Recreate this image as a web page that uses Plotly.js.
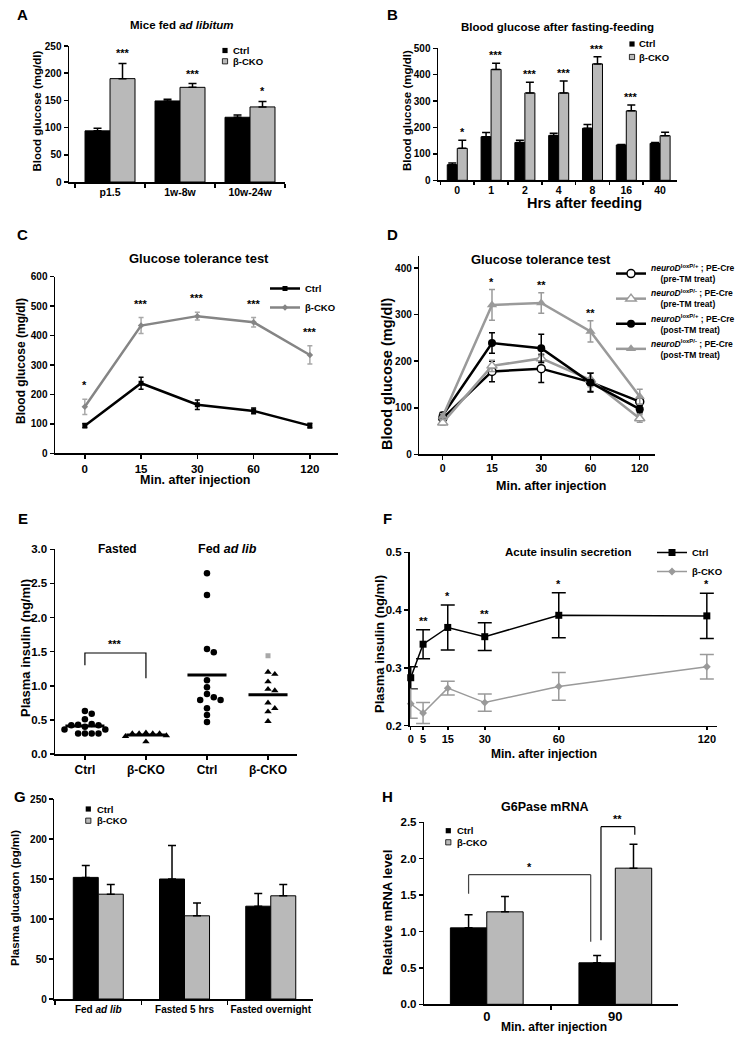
<!DOCTYPE html>
<html><head><meta charset="utf-8">
<script src="https://cdn.plot.ly/plotly-3.0.1.min.js"></script>
<style>html,body{margin:0;padding:0;background:#fff}#chart{width:736px;height:1040px}</style>
</head><body><div id="chart"></div>
<script>
// ================= DATA =================
// A: Mice fed ad libitum
const catsA = ['p1.5', '1w-8w', '10w-24w'];
const ctrlA = [94, 149, 119];
const ctrlAErr = [5, 3, 4];
const ckoA = [190, 174, 138];
const ckoAErr = [28, 7, 10];
const starsA = ['***', '***', '*'];

// B: Blood glucose after fasting-feeding
const catsB = ['0', '1', '2', '4', '8', '16', '40'];
const ctrlB = [59, 165, 143, 170, 197, 134, 140];
const ctrlBErr = [7, 16, 9, 8, 14, 2, 3];
const ckoB = [121, 420, 331, 331, 441, 263, 169];
const ckoBErr = [31, 23, 40, 45, 27, 22, 13];
const starsB = ['*', '***', '***', '***', '***', '***', ''];

// C: Glucose tolerance test
const catsC = ['0', '15', '30', '60', '120'];
const ctrlC = [94, 238, 165, 144, 94];
const ctrlCErr = [7, 20, 16, 10, 8];
const ckoC = [158, 434, 466, 445, 334];
const ckoCErr = [26, 27, 13, 16, 31];
const starsC = ['*', '***', '***', '***', '***'];

// D: Glucose tolerance test (TM)
const catsD = ['0', '15', '30', '60', '120'];
const preHetD = [77, 178, 184, 155, 113];
const preHetDErr = [6, 22, 30, 20, 7];
const preKoD = [68, 190, 206, 160, 77];
const preKoDErr = [5, 12, 10, 15, 8];
const postHetD = [84, 239, 228, 154, 97];
const postHetDErr = [6, 22, 30, 20, 8];
const postKoD = [81, 321, 325, 264, 124];
const postKoDErr = [6, 33, 22, 23, 16];
const starsD = ['', '*', '**', '**', ''];

// E: Plasma insulin
const ticksE = ['Ctrl', 'β-CKO', 'Ctrl', 'β-CKO'];
const fastedCtrlE = [0.63, 0.59, 0.51, 0.44, 0.43, 0.42, 0.42, 0.40, 0.36, 0.36, 0.30, 0.30, 0.30, 0.30];
const fastedCkoE = [0.31, 0.30, 0.30, 0.30, 0.30, 0.27, 0.26, 0.18];
const fedCtrlE = [2.65, 2.33, 1.54, 1.49, 1.08, 0.98, 0.88, 0.83, 0.79, 0.79, 0.67, 0.57, 0.47];
const fedCkoE = [1.20, 1.17, 1.06, 0.95, 0.93, 0.75, 0.67, 0.62, 0.48];
const fedCkoExcludedE = [1.44];
const bracketE = {from: 0, to: 1, left: 1.30, right: 1.11, top: 1.48, label: '***'};

// F: Acute insulin secretion
const timesF = [0, 5, 15, 30, 60, 120];
const ctrlF = [0.283, 0.341, 0.370, 0.354, 0.391, 0.390];
const ctrlFErr = [0.019, 0.025, 0.039, 0.024, 0.039, 0.039];
const ckoF = [0.238, 0.222, 0.265, 0.240, 0.268, 0.302];
const ckoFErr = [0.025, 0.018, 0.012, 0.015, 0.024, 0.021];
const starsF = ['', '**', '*', '**', '*', '*'];

// G: Plasma glucagon
const catsG = ['Fed <i>ad lib</i>', 'Fasted 5 hrs', 'Fasted overnight'];
const ctrlG = [152, 150, 116];
const ctrlGErr = [15, 42, 16];
const ckoG = [131, 104, 129];
const ckoGErr = [12, 16, 14];

// H: G6Pase mRNA
const catsH = ['0', '90'];
const ctrlH = [1.05, 0.57];
const ctrlHErr = [0.18, 0.10];
const ckoH = [1.27, 1.87];
const ckoHErr = [0.21, 0.33];
const bracketsH = [
  {from: [0, 'ctrl'], to: [1, 'ctrl'], left: 1.52, right: 0.86, top: 1.78, label: '*', color: '#444'},
  {from: [1, 'ctrl'], to: [1, 'cko'], left: 0.88, right: 2.33, top: 2.44, label: '**', color: '#000'}
];

// ================= HELPERS =================
const W = 736, H = 1040;
const X = p => p / W;
const Y = p => 1 - p / H;
const FONT = '"Liberation Sans", Arial, Helvetica, sans-serif';
const fnt = (size, extra) => Object.assign({family: FONT, size: size, color: '#000', weight: 'bold'}, extra || {});
const GRAY = '#b9b9b9';

const annotations = [];
const shapes = [];
const traces = [];

function ann(text, x, y, size, extra) {
  annotations.push(Object.assign({text: text, x: X(x), y: Y(y), xref: 'paper', yref: 'paper',
    showarrow: false, font: fnt(size), xanchor: 'center', yanchor: 'middle'}, extra || {}));
}
function dataAnn(text, xr, yr, x, y, size, yshift) {
  annotations.push({text: text, x: x, y: y, xref: xr, yref: yr, showarrow: false, font: fnt(size),
    xanchor: 'center', yanchor: 'middle', yshift: yshift});
}
function xAxis(l, r, range, anchor, extra) {
  return Object.assign({domain: [X(l), X(r)], range: range, anchor: anchor, showline: true, linecolor: '#000',
    linewidth: 1.5, ticks: 'outside', ticklen: 4, tickwidth: 1.5, tickcolor: '#000', showgrid: false,
    zeroline: false, fixedrange: true, tickangle: 0, tickfont: fnt(10.5)}, extra || {});
}
function yAxis(top, bot, range, anchor, extra) {
  return Object.assign({domain: [Y(bot), Y(top)], range: range, anchor: anchor, showline: true, linecolor: '#000',
    linewidth: 1.5, ticks: 'outside', ticklen: 4, tickwidth: 1.5, tickcolor: '#000', showgrid: false,
    zeroline: false, fixedrange: true, tickfont: fnt(10)}, extra || {});
}
const upErr = (errs, color) => ({type: 'data', symmetric: false, array: errs, arrayminus: errs.map(() => 0),
  color: color || '#000', thickness: 1.5, width: 4});
const symErr = (errs, color, w) => ({type: 'data', array: errs, color: color, thickness: 1.5, width: w || 3});

function barPair(cats, ctrl, ctrlErr, cko, ckoErr, w, xa, ya) {
  traces.push({type: 'bar', x: cats, y: ctrl, xaxis: xa, yaxis: ya, width: w, offset: -w,
    marker: {color: '#000', line: {color: '#000', width: 1}}, error_y: upErr(ctrlErr), showlegend: false, name: 'Ctrl'});
  traces.push({type: 'bar', x: cats, y: cko, xaxis: xa, yaxis: ya, width: w, offset: 0,
    marker: {color: GRAY, line: {color: '#000', width: 1}}, error_y: upErr(ckoErr), showlegend: false, name: 'β-CKO'});
}
function barLegend(xc, y1, y2, tx) {
  const s = 2.6;
  shapes.push({type: 'rect', xref: 'paper', yref: 'paper', x0: X(xc - s), x1: X(xc + s), y0: Y(y1 + s), y1: Y(y1 - s),
    fillcolor: '#000', line: {width: 0}});
  shapes.push({type: 'rect', xref: 'paper', yref: 'paper', x0: X(xc - s), x1: X(xc + s), y0: Y(y2 + s), y1: Y(y2 - s),
    fillcolor: GRAY, line: {width: 0.8, color: '#000'}});
  ann('Ctrl', tx, y1, 9.5, {xanchor: 'left'});
  ann('β-CKO', tx, y2, 9.5, {xanchor: 'left'});
}
function bracketShapes(xr, yr, x0, x1, yl, yt, yrt, color) {
  const ln = {color: color, width: 1.2};
  shapes.push({type: 'line', xref: xr, yref: yr, x0: x0, x1: x0, y0: yl, y1: yt, line: ln});
  shapes.push({type: 'line', xref: xr, yref: yr, x0: x0, x1: x1, y0: yt, y1: yt, line: ln});
  shapes.push({type: 'line', xref: xr, yref: yr, x0: x1, x1: x1, y0: yt, y1: yrt, line: ln});
}

// ================= PANEL A =================
const wA = 0.357;
barPair(catsA, ctrlA, ctrlAErr, ckoA, ckoAErr, wA, 'x', 'y');
catsA.forEach((c, i) => dataAnn(starsA[i], 'x', 'y', i + wA / 2, ckoA[i] + ckoAErr[i], 11, 10));
barLegend(225, 50.5, 61.3, 231);

// ================= PANEL B =================
const wB = 0.296;
barPair(catsB, ctrlB, ctrlBErr, ckoB, ckoBErr, wB, 'x2', 'y2');
catsB.forEach((c, i) => { if (starsB[i]) dataAnn(starsB[i], 'x2', 'y2', i + wB / 2, ckoB[i] + ckoBErr[i], 11, 8); });
barLegend(632, 44, 57, 637);

// ================= PANEL C =================
traces.push({type: 'scatter', mode: 'lines+markers', x: catsC, y: ctrlC, xaxis: 'x3', yaxis: 'y3', name: 'Ctrl',
  line: {color: '#000', width: 2.5}, marker: {symbol: 'square', size: 5, color: '#000'},
  error_y: symErr(ctrlCErr, '#000', 2.5), legend: 'legend', cliponaxis: false});
traces.push({type: 'scatter', mode: 'lines+markers', x: catsC, y: ckoC, xaxis: 'x3', yaxis: 'y3', name: 'β-CKO',
  line: {color: '#858585', width: 2.5}, marker: {symbol: 'diamond', size: 5, color: '#858585'},
  error_y: symErr(ckoCErr, '#a8a8a8', 2.5), legend: 'legend', cliponaxis: false});
catsC.forEach((c, i) => dataAnn(starsC[i], 'x3', 'y3', i, ckoC[i] + ckoCErr[i], 11, 14));

// ================= PANEL D =================
const nmD = (sup, tm) => '<i>neuroD</i><sup>' + sup + '</sup> ; PE-Cre<br>\u00a0\u00a0\u00a0\u00a0(' + tm + ' treat)';
traces.push({type: 'scatter', mode: 'lines+markers', x: catsD, y: preHetD, xaxis: 'x4', yaxis: 'y4',
  name: nmD('loxP/+', 'pre-TM'), line: {color: '#000', width: 2.5},
  marker: {symbol: 'circle', size: 8, color: '#fff', line: {color: '#000', width: 1.5}},
  error_y: symErr(preHetDErr, '#000', 3), legend: 'legend2', cliponaxis: false});
traces.push({type: 'scatter', mode: 'lines+markers', x: catsD, y: preKoD, xaxis: 'x4', yaxis: 'y4',
  name: nmD('loxP/-', 'pre-TM'), line: {color: '#9a9a9a', width: 2.5},
  marker: {symbol: 'triangle-up', size: 9, color: '#fff', line: {color: '#9a9a9a', width: 1.5}},
  error_y: symErr(preKoDErr, '#9a9a9a', 3), legend: 'legend2', cliponaxis: false});
traces.push({type: 'scatter', mode: 'lines+markers', x: catsD, y: postHetD, xaxis: 'x4', yaxis: 'y4',
  name: nmD('loxP/+', 'post-TM'), line: {color: '#000', width: 2.5},
  marker: {symbol: 'circle', size: 8, color: '#000'},
  error_y: symErr(postHetDErr, '#000', 3), legend: 'legend2', cliponaxis: false});
traces.push({type: 'scatter', mode: 'lines+markers', x: catsD, y: postKoD, xaxis: 'x4', yaxis: 'y4',
  name: nmD('loxP/-', 'post-TM'), line: {color: '#9a9a9a', width: 2.5},
  marker: {symbol: 'triangle-up', size: 9, color: '#9a9a9a'},
  error_y: symErr(postKoDErr, '#9a9a9a', 3), legend: 'legend2', cliponaxis: false});
catsD.forEach((c, i) => {
  if (!starsD[i]) return;
  const top = Math.max(preHetD[i] + preHetDErr[i], preKoD[i] + preKoDErr[i], postHetD[i] + postHetDErr[i], postKoD[i] + postKoDErr[i]);
  dataAnn(starsD[i], 'x4', 'y4', i, top, 11, 8);
});

// ================= PANEL E =================
// simple deterministic beeswarm (pixel space) so dots do not overlap
function swarm(vals, center, pxPerX, pxPerY, diam) {
  const order = vals.map((v, i) => i).sort((a, b) => vals[b] - vals[a]);
  const placed = [];
  const xs = new Array(vals.length);
  for (const i of order) {
    const yv = vals[i] * pxPerY;
    let off = 0;
    for (let k = 0; k < 40; k++) {
      off = (k === 0 ? 0 : (k % 2 ? 1 : -1) * Math.ceil(k / 2)) * diam;
      if (placed.every(p => Math.hypot(p.x - off, p.y - yv) >= diam * 0.98)) break;
    }
    placed.push({x: off, y: yv});
    xs[i] = center + off / pxPerX;
  }
  return xs;
}
const mean = a => a.reduce((s, v) => s + v, 0) / a.length;
const pxX_E = 61, pxY_E = 68.2;
const groupsE = [
  {vals: fastedCtrlE, sym: 'circle'},
  {vals: fastedCkoE, sym: 'triangle-up'},
  {vals: fedCtrlE, sym: 'circle'},
  {vals: fedCkoE, sym: 'triangle-up'}
];
groupsE.forEach((g, gi) => {
  const all = gi === 3 ? g.vals.concat(fedCkoExcludedE) : g.vals;
  const xs = swarm(all, gi, pxX_E, pxY_E, 6.8);
  traces.push({type: 'scatter', mode: 'markers', x: xs.slice(0, g.vals.length), y: g.vals, xaxis: 'x5', yaxis: 'y5',
    marker: {symbol: g.sym, size: 6.5, color: '#000'}, showlegend: false, cliponaxis: false});
  if (gi === 3) {
    traces.push({type: 'scatter', mode: 'markers', x: xs.slice(g.vals.length), y: fedCkoExcludedE, xaxis: 'x5', yaxis: 'y5',
      marker: {symbol: 'square', size: 5, color: '#a8a8a8'}, showlegend: false});
  }
  const m = mean(g.vals);
  traces.push({type: 'scatter', mode: 'lines', x: [gi - 0.32, gi + 0.32], y: [m, m], xaxis: 'x5', yaxis: 'y5',
    line: {color: '#000', width: 3}, showlegend: false});
});
traces.push({type: 'scatter', mode: 'lines', xaxis: 'x5', yaxis: 'y5', showlegend: false,
  x: [bracketE.from, bracketE.from, bracketE.to, bracketE.to],
  y: [bracketE.left, bracketE.top, bracketE.top, bracketE.right], line: {color: '#000', width: 1.2}});
dataAnn(bracketE.label, 'x5', 'y5', (bracketE.from + bracketE.to) / 2, bracketE.top, 11, 9);

// ================= PANEL F =================
traces.push({type: 'scatter', mode: 'lines+markers', x: timesF, y: ctrlF, xaxis: 'x6', yaxis: 'y6', name: 'Ctrl',
  line: {color: '#000', width: 1.5}, marker: {symbol: 'square', size: 7, color: '#000'},
  error_y: symErr(ctrlFErr, '#000', 7), legend: 'legend3', cliponaxis: false});
traces.push({type: 'scatter', mode: 'lines+markers', x: timesF, y: ckoF, xaxis: 'x6', yaxis: 'y6', name: 'β-CKO',
  line: {color: '#9a9a9a', width: 1.5}, marker: {symbol: 'diamond', size: 6, color: '#9a9a9a'},
  error_y: symErr(ckoFErr, '#9a9a9a', 7), legend: 'legend3', cliponaxis: false});
timesF.forEach((t, i) => { if (starsF[i]) dataAnn(starsF[i], 'x6', 'y6', t, ctrlF[i] + ctrlFErr[i], 11, 9); });

// ================= PANEL G =================
const wG = 0.29;
barPair(catsG, ctrlG, ctrlGErr, ckoG, ckoGErr, wG, 'x7', 'y7');
barLegend(88.3, 809, 820.7, 95);

// ================= PANEL H =================
const wH = 0.283;
barPair(catsH, ctrlH, ctrlHErr, ckoH, ckoHErr, wH, 'x8', 'y8');
barLegend(448.3, 830.7, 842.3, 455);
const barX = (ref, w) => ref[0] + (ref[1] === 'ctrl' ? -w / 2 : w / 2);
bracketsH.forEach((b, bi) => {
  const x0 = barX(b.from, wH) + (bi === 1 ? 0.03 : 0);
  const x1 = barX(b.to, wH) + (bi === 0 ? -0.05 : 0.01);
  bracketShapes('x8', 'y8', x0, x1, b.left, b.top, b.right, b.color);
  dataAnn(b.label, 'x8', 'y8', (x0 + x1) / 2, b.top, 11, 8);
});

// ================= TEXT (titles, letters, axis titles) =================
[['A', 22.5, 15], ['B', 392, 15], ['C', 22.5, 235], ['D', 393, 235], ['E', 22.5, 518], ['F', 387, 518], ['G', 20, 796], ['H', 387, 796]]
  .forEach(l => ann(l[0], l[1], l[2], 15));
ann('Mice fed <i>ad libitum</i>', 182, 25, 11.5);
ann('Blood glucose after fasting-feeding', 557, 27, 11.5);
ann('Glucose tolerance test', 199, 258, 13);
ann('Glucose tolerance test', 541, 259, 13);
ann('Fasted', 117, 549, 12);
ann('Fed <i>ad lib</i>', 227, 549, 12.5);
ann('Acute insulin secretion', 568, 552, 11.5);
ann('G6Pase mRNA', 545, 807, 12.5);
// y titles
const rot = {textangle: -90};
ann('Blood glucose (mg/dl)', 36.5, 111, 11.5, rot);
ann('Blood glucose (mg/dl)', 407, 111, 11.5, rot);
ann('Blood glucose (mg/dl)', 21, 361, 12, rot);
ann('Blood glucose (mg/dl)', 387.5, 374.5, 14.5, rot);
ann('Plasma insulin (ng/ml)', 25, 648, 13, rot);
ann('Plasma insulin (ng/ml)', 379, 644, 13, rot);
ann('Plasma glucagon (pg/ml)', 15, 898, 11.5, rot);
ann('Relative mRNA level', 387, 913, 13, rot);
// x titles
ann('Hrs after feeding', 584, 203, 14.5);
ann('Min. after injection', 195, 480, 12.5);
ann('Min. after injection', 551, 486, 12.5);
ann('Min. after injection', 544, 754, 12);
ann('Min. after injection', 554, 1027, 12);

// ================= LAYOUT =================
const layout = {
  width: W, height: H, margin: {l: 0, r: 0, t: 0, b: 0, autoexpand: false},
  paper_bgcolor: '#fff', plot_bgcolor: 'rgba(0,0,0,0)',
  font: fnt(10), barmode: 'overlay', showlegend: true,
  xaxis: xAxis(69, 285, [-0.586, 2.5], 'y', {type: 'category', tickson: 'boundaries'}),
  yaxis: yAxis(46, 182, [0, 250], 'x', {dtick: 50}),
  xaxis2: xAxis(438, 677, [-0.57, 6.5], 'y2', {type: 'category', tickson: 'boundaries', ticklen: 3}),
  yaxis2: yAxis(48.3, 180.3, [0, 500], 'x2', {dtick: 100}),
  xaxis3: xAxis(55, 338, [-0.53, 4.5], 'y3', {type: 'category', tickfont: fnt(11.5)}),
  yaxis3: yAxis(276.7, 453.3, [0, 600], 'x3', {dtick: 100}),
  xaxis4: xAxis(419.3, 655, [-0.476, 4.31], 'y4', {type: 'category'}),
  yaxis4: yAxis(256, 454.3, [0, 426], 'x4', {tickvals: [0, 100, 200, 300, 400]}),
  xaxis5: xAxis(55, 296.7, [-0.49, 3.47], 'y5', {tickvals: [0, 1, 2, 3], ticktext: ticksE, tickfont: fnt(12)}),
  yaxis5: yAxis(549.3, 754, [0, 3], 'x5', {dtick: 0.5, tickformat: '.1f', tickfont: fnt(11.5)}),
  xaxis6: xAxis(409.5, 716.7, [-0.5, 124], 'y6', {tickvals: timesF, tickfont: fnt(11), ticklen: 3}),
  yaxis6: yAxis(552.3, 725.7, [0.2, 0.5], 'x6', {dtick: 0.1, tickformat: '.1f', tickfont: fnt(11.5)}),
  xaxis7: xAxis(54.3, 313, [-0.51, 2.49], 'y7', {type: 'category', tickson: 'boundaries', tickfont: fnt(10)}),
  yaxis7: yAxis(799, 999, [0, 250], 'x7', {dtick: 50}),
  xaxis8: xAxis(424.3, 678.3, [-0.486, 1.49], 'y8', {type: 'category', tickson: 'boundaries', tickfont: fnt(13)}),
  yaxis8: yAxis(822.3, 1004.3, [0, 2.5], 'x8', {dtick: 0.5, tickformat: '.1f', tickfont: fnt(11.5)}),
  legend: {x: X(265), y: Y(274), xanchor: 'left', yanchor: 'top', bgcolor: 'rgba(0,0,0,0)', font: fnt(9.5), itemwidth: 30},
  legend2: {x: X(611), y: Y(256), xanchor: 'left', yanchor: 'top', bgcolor: 'rgba(0,0,0,0)', font: fnt(8.5), itemwidth: 30},
  legend3: {x: X(652), y: Y(538), xanchor: 'left', yanchor: 'top', bgcolor: 'rgba(0,0,0,0)', font: fnt(9.5), itemwidth: 30},
  annotations: annotations,
  shapes: shapes
};

Plotly.newPlot('chart', traces, layout, {staticPlot: true, displayModeBar: false});
</script>
</body></html>
